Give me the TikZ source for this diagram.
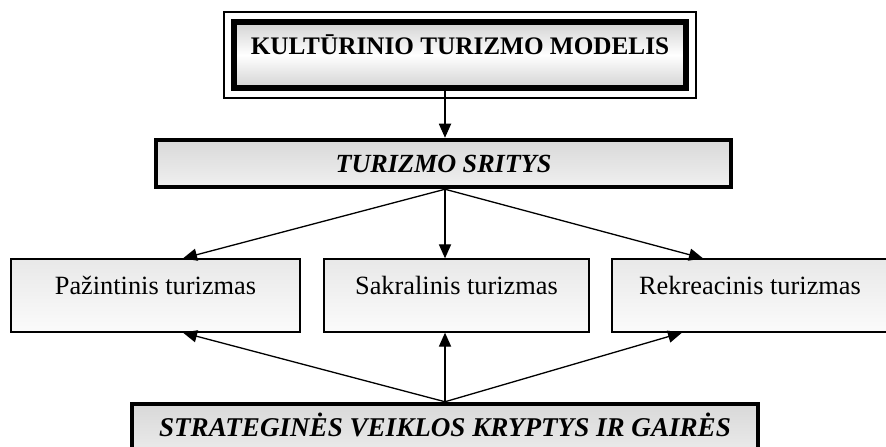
\documentclass[tikz,border=0pt]{standalone}
\usepackage{fontspec}
\setmainfont{Liberation Serif}
\usetikzlibrary{arrows.meta}
\usetikzlibrary{positioning}
\tikzset{box/.style 2 args = {draw, line width = 0.7pt, top color = gray!18, bottom color = gray!3,
    minimum width = #1*0.535pt, minimum height = #2*0.535pt, inner sep = 0, font = \fontsize{14.1}{16}\selectfont}}
\tikzset{heavy/.style = {line width = 2.4pt, top color = gray!30, bottom color = gray!12}}
\tikzset{arr/.style = {-{Triangle[length = 7.5pt, width = 6.5pt]}, line width = 0.7pt}}

\begin{document}
\begin{tikzpicture}[x = 0.535pt, y = -0.535pt]
          \useasboundingbox (0, 0) rectangle (886, 447);

          \node [box = {452}{66}, line width = 3.2pt, top color = gray!35, bottom color = gray!35, middle color = white,
                 font = \fontsize{13.5}{16}\selectfont\bfseries, text height = 11pt, text depth = 11pt] (model) at (460, 55) {KULT\=URINIO TURIZMO MODELIS};
          \draw [line width = 0.7pt] ([shift = {(-3.8pt, 3.8pt)}] model.north west) rectangle ([shift = {(3.8pt, -3.8pt)}] model.south east);

          \node [box = {575}{47}, heavy, font = \fontsize{14}{16}\selectfont\bfseries\itshape] (areas) at (443.5, 163.5) {TURIZMO SRITYS};

          \node [box = {289}{73}, text height = 11pt, text depth = 12pt] (cog) at (155.5, 295.5) {Pažintinis turizmas};
          \node [box = {265}{73}, text height = 11pt, text depth = 12pt] (sac) at (456.5, 295.5) {Sakralinis turizmas};
          \node [box = {276}{73}, text height = 11pt, text depth = 12pt] (rec) at (750, 295.5) {Rekreacinis turizmas};

          \node [box = {626}{62}, heavy, font = \fontsize{14.5}{16}\selectfont\bfseries\itshape, text height = 12pt, text depth = 10pt] (dirs) at (445, 435) {STRATEGIN\.ES VEIKLOS KRYPTYS IR GAIR\.ES};

          \coordinate (down) at (445, 0);
          \draw [arr] (model.south -| down) -- (areas.north -| down);

          \draw [arr] (areas.south -| down) -- ([xshift = 27.5*0.535pt] cog.north);
          \draw [arr] (areas.south -| down) -- (sac.north -| down);
          \draw [arr] (areas.south -| down) -- ([xshift = -47*0.535pt] rec.north);

          \draw [arr] (dirs.north) -- ([xshift = 27.5*0.535pt] cog.south);
          \draw [arr] (dirs.north) -- (sac.south -| dirs.north);
          \draw [arr] (dirs.north) -- ([xshift = -68*0.535pt] rec.south);
        \end{tikzpicture}
\end{document}
